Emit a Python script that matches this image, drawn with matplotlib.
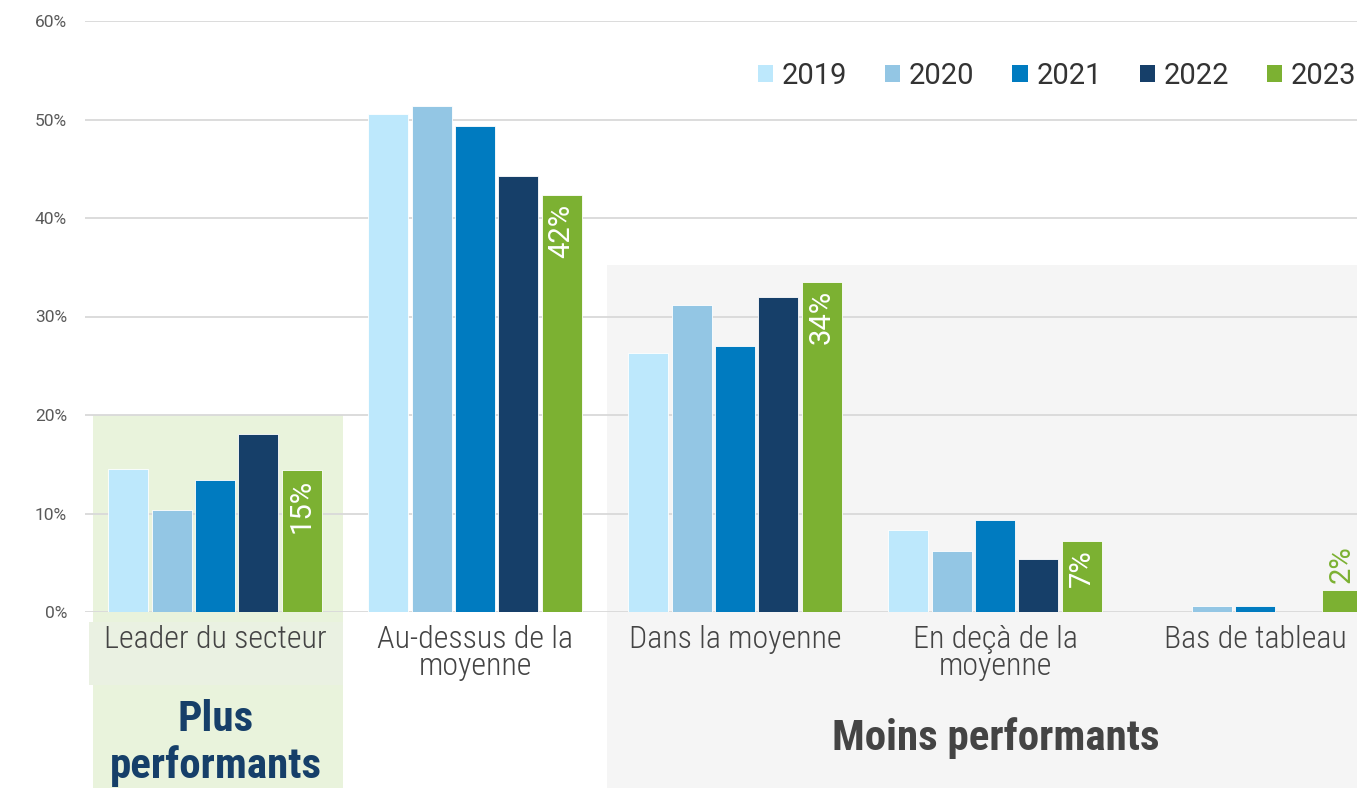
import matplotlib
matplotlib.use("Agg")
import matplotlib.pyplot as plt
from matplotlib.patches import Rectangle, Patch
import numpy as np

plt.rcParams['font.family'] = ['Roboto', 'DejaVu Sans']

categories = ["Leader du secteur", "Au-dessus de la\nmoyenne", "Dans la moyenne",
              "En deçà de la\nmoyenne", "Bas de tableau"]
years = ["2019", "2020", "2021", "2022", "2023"]
v2019 = [14.5, 50.6, 26.3, 8.3, 0.0]
v2020 = [10.4, 51.4, 31.2, 6.2, 0.6]
v2021 = [13.4, 49.3, 27.0, 9.3, 0.6]
v2022 = [18.1, 44.3, 32.0, 5.4, 0.0]
v2023 = [14.4, 42.3, 33.5, 7.2, 2.2]
labels2023 = ["15%", "42%", "34%", "7%", "2%"]
yticks = [0, 10, 20, 30, 40, 50, 60]
ytick_labels = ["0%", "10%", "20%", "30%", "40%", "50%", "60%"]
colors = ["#BDE8FC", "#93C6E4", "#007BC0", "#163F69", "#7CB132"]

series = [v2019, v2020, v2021, v2022, v2023]
COND = ["Roboto Condensed", "Roboto", "DejaVu Sans"]

fig = plt.figure(figsize=(13.57, 7.88), dpi=100)
ax = fig.add_axes([85/1357, 176/788, 1300/1357, 591/788])
ax.patch.set_visible(False)
ax.set_xlim(-0.5, 4.5)
ax.set_ylim(0, 60)

# background panels
ax.add_patch(Rectangle((-0.469, -40), 0.961, 60, facecolor="#E9F3DC",
                       edgecolor="none", zorder=0, clip_on=False))
ax.add_patch(Rectangle((-0.485, -7.4), 0.977, 6.4, facecolor="#EAF1E2",
                       edgecolor="none", zorder=0.1, clip_on=False))
ax.add_patch(Rectangle((1.508, -40), 4.0, 75.2, facecolor="#F5F5F5",
                       edgecolor="none", zorder=0, clip_on=False))

x = np.arange(len(categories))
pitch = 0.1667
width = 0.154
for i, (vals, c) in enumerate(zip(series, colors)):
    pos = x + (i - 2) * pitch
    bars = ax.bar(pos, vals, width=width, color=c, edgecolor="#FFFFFF",
                  linewidth=0.6, zorder=2, label=years[i])
    if i == 4:
        for b, lab in zip(bars, labels2023):
            h = b.get_height()
            cx = b.get_x() + b.get_width() / 2
            if h > 4:
                ax.annotate(lab, (cx, h), xytext=(0, -6), textcoords="offset points",
                            rotation=90, ha="center", va="top", color="white",
                            fontsize=21, zorder=3)
            else:
                ax.annotate(lab, (cx, h), xytext=(0, 5), textcoords="offset points",
                            rotation=90, ha="center", va="bottom", color="#7CB132",
                            fontsize=21, zorder=3, annotation_clip=False)

ax.set_yticks(yticks)
ax.set_yticklabels(ytick_labels, fontsize=12.5, color="#595959")
ax.set_xticks(x)
ax.set_xticklabels(categories, fontsize=23, color="#444444", fontweight="light",
                   linespacing=0.95, family=COND)
ax.tick_params(axis="both", length=0)
ax.tick_params(axis="y", pad=13)
ax.tick_params(axis="x", pad=9)
ax.set_axisbelow(True)
ax.grid(axis="y", color="#D9D9D9", linewidth=1.3, zorder=0.5)
for s in ax.spines.values():
    s.set_visible(False)

handles = [Patch(facecolor=c, edgecolor="none") for c in colors]
fig.legend(handles, years, loc="center right", bbox_to_anchor=(1.019, 1 - 76/788),
           ncol=5, frameon=False, fontsize=21, handlelength=0.52, handleheight=0.52,
           handletextpad=0.3, columnspacing=1.3, labelcolor="#333333")

fig.text(216/1357, 1 - 743/788, "Plus\nperformants", ha="center", va="center",
         fontsize=31, fontweight="bold", color="#163F69", linespacing=1.18,
         family=COND)
fig.text(996/1357, 1 - 738/788, "Moins performants", ha="center", va="center",
         fontsize=31, fontweight="bold", color="#444444", family=COND)

fig.savefig("out.png", dpi=100)
